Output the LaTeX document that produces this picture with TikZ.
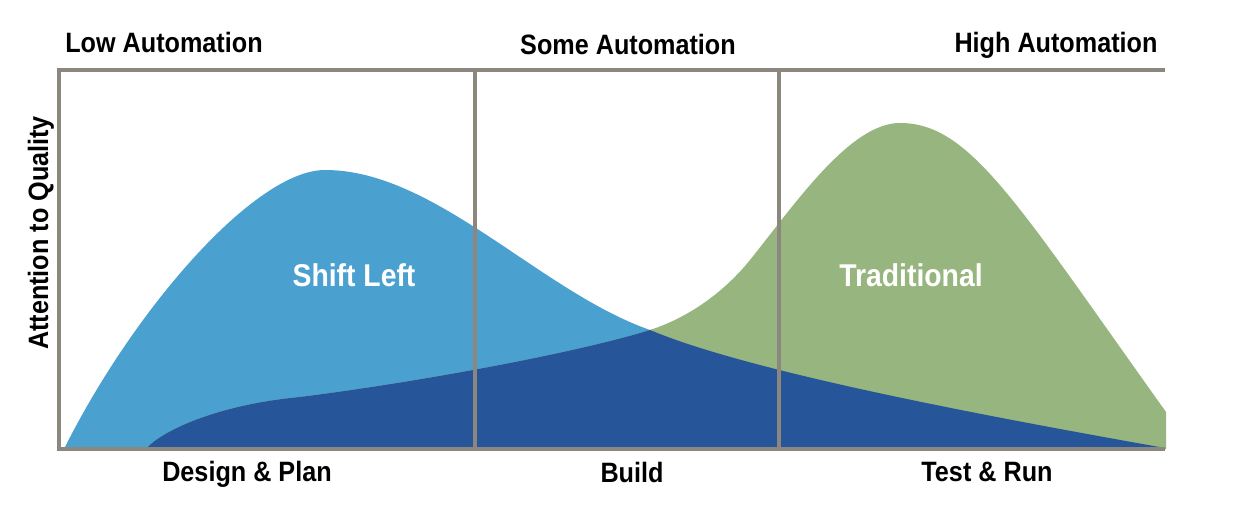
\documentclass[tikz,border=0pt]{standalone}
\usepackage{fontspec}
\setmainfont{Liberation Sans}[FakeStretch=0.9]
\definecolor{lightblue}{RGB}{74,160,207}
\definecolor{greenc}{RGB}{151,181,126}
\definecolor{darkblue}{RGB}{38,85,153}
\definecolor{framegray}{RGB}{139,134,126}
\begin{document}
\begin{tikzpicture}[x=1pt,y=-1pt,
  lab/.style={font=\fontsize{28}{30}\selectfont\bfseries, text=black, anchor=base, inner sep=0pt},
  inlab/.style={font=\fontsize{31.5}{33}\selectfont\bfseries, text=white, anchor=base, inner sep=0pt},
  frameline/.style={draw=framegray, line width=4pt}]
\useasboundingbox (0,0) rectangle (1238,510);
\fill[white] (0,0) rectangle (1238,510);
% curves
\def\bluepath{(64,449) .. controls (134,309) and (255,170) .. (325,170)
  .. controls (435,170) and (540,291.5) .. (650,330)
  .. controls (750,372) and (985,416) .. (1165,448) -- (1165,449) -- cycle}
\def\greenpath{(146,449) .. controls (160,432) and (215,405) .. (300,397)
  .. controls (420,382) and (580,352) .. (650,330)
  .. controls (690,317) and (725,291) .. (750,260)
  .. controls (795,204) and (850,123) .. (900,123)
  .. controls (970,123) and (1016,202) .. (1166,412) -- (1166,449) -- cycle}
\fill[lightblue] \bluepath;
\fill[greenc] \greenpath;
\begin{scope}
  \clip \bluepath;
  \fill[darkblue] \greenpath;
\end{scope}
% frame
\coordinate (tl) at (59,70);
\coordinate (bl) at (59,449);
\coordinate (tr) at (1165,70);
\coordinate (br) at (1165,449);
\coordinate (d1t) at (475,70);
\coordinate (d1b) at (475,449);
\coordinate (d2t) at (779,70);
\coordinate (d2b) at (779,449);
\draw[frameline] (tr) -- (tl) -- (bl) -- (br);
\draw[frameline] (d1t) -- (d1b);
\draw[frameline] (d2t) -- (d2b);
% labels
\node[lab] (low) at (164,53) {Low Automation};
\node[lab] (some) at (628,55) {Some Automation};
\node[lab] (high) at (1056,53) {High Automation};
\node[lab] (design) at (247,481) {Design \& Plan};
\node[lab] (build) at (632,482) {Build};
\node[lab] (test) at (987,481) {Test \& Run};
\node[lab, rotate=90] (att) at (48,233) {Attention to Quality};
\node[inlab] (shift) at (354,287) {Shift Left};
\node[inlab] (trad) at (911,287) {Traditional};
\end{tikzpicture}
\end{document}
